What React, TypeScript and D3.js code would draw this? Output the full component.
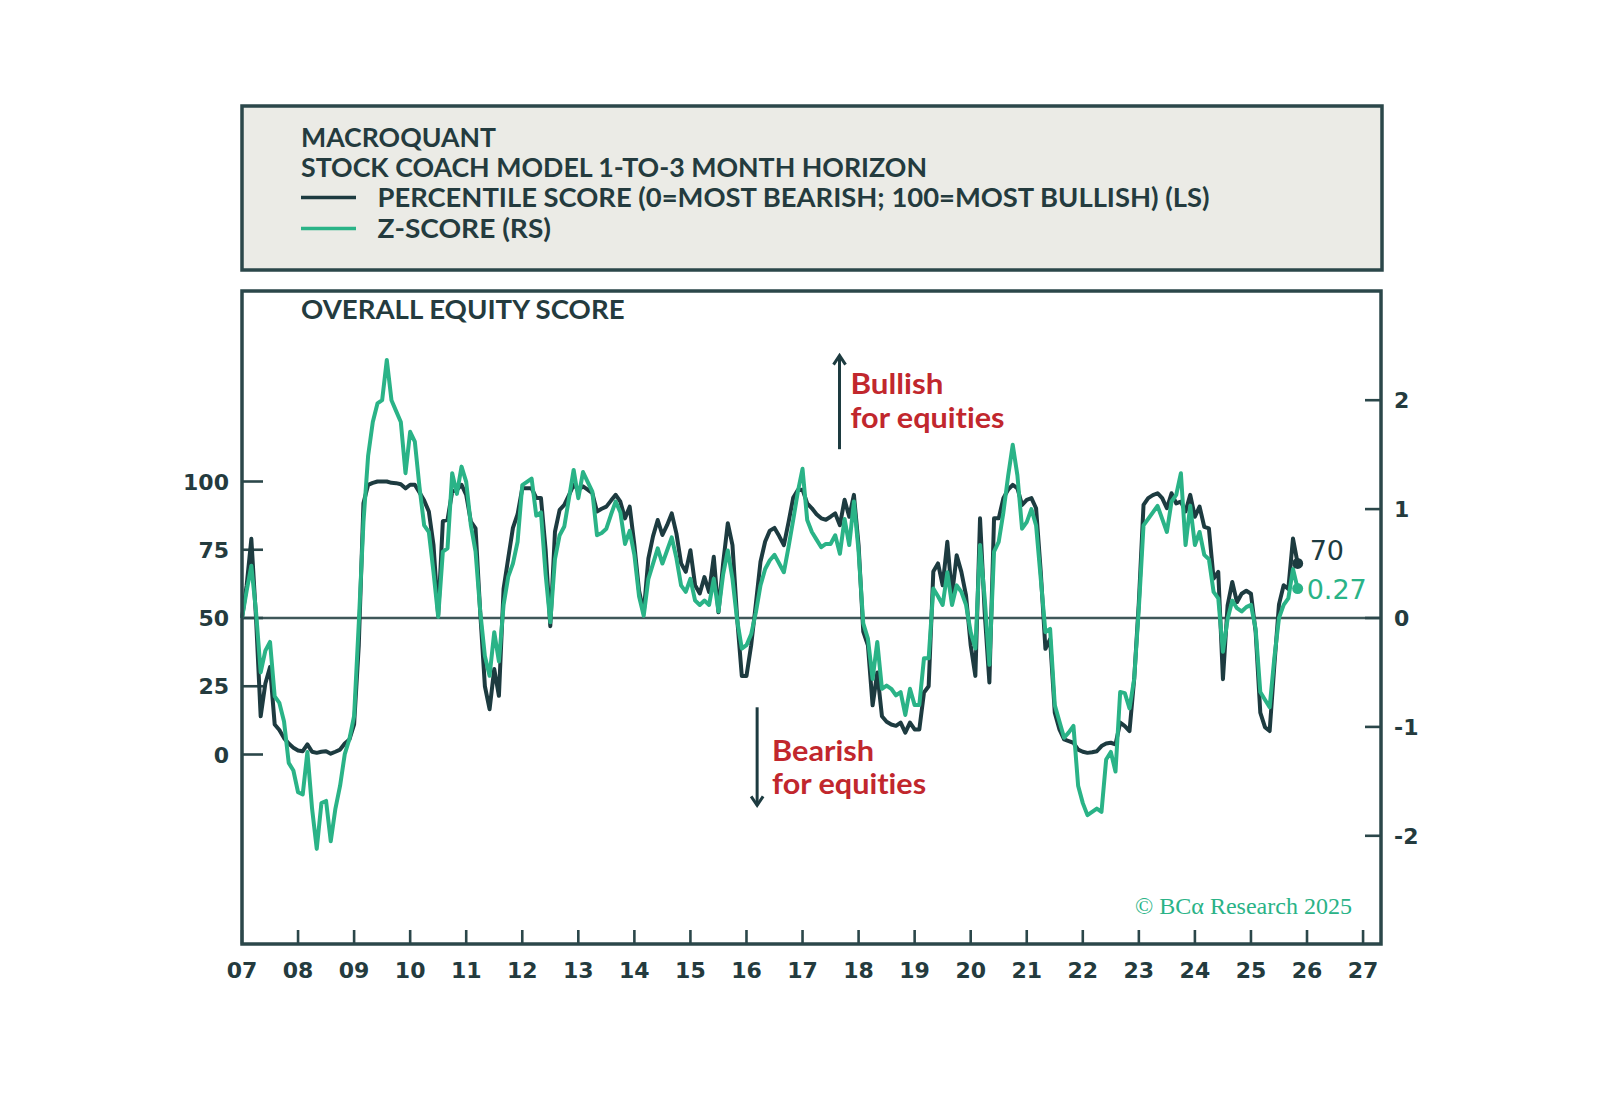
import { useMemo } from "react";
import * as d3 from "d3";

// monthly readings, first point = Jan 2007
const startYear = 2007;

const percentile = [
  50, 62, 79, 50, 14, 26, 32, 11, 9, 6,
  4, 2.5, 1.5, 1.2, 3.7, 1, 0.6, 1, 1.2, 0.3,
  1, 1.8, 4, 5.5, 11, 40, 92, 98.8, 99.5, 100,
  100, 100, 99.5, 99.4, 99, 97.5, 98.8, 98.8, 96, 93,
  89, 76.7, 51, 85.5, 86, 96.3, 96.9, 98.8, 95.1, 85.3,
  82.8, 52, 25, 16.6, 31.3, 21.5, 60.7, 72, 83, 88,
  97.5, 97.5, 97.5, 94, 94, 75, 47, 81.6, 89.6, 91.4,
  95, 98.8, 96.9, 98.2, 97, 95.7, 89, 90, 90.8, 93,
  95.1, 92.6, 86.5, 90.8, 76.7, 60, 52, 71.8, 80, 85.9,
  80.4, 84, 88.3, 81, 70, 66.9, 74.8, 62, 59, 65,
  59.5, 72.4, 52.1, 70, 84.7, 76.7, 50, 28.8, 28.8, 40,
  55, 70.6, 78, 82, 83, 80, 76.7, 85, 94, 96.9,
  97, 92, 90.2, 88, 86.5, 86, 87.1, 88.3, 84, 93.3,
  87.1, 95.1, 76.7, 45, 40, 18, 30, 14, 12, 11,
  10.5, 11.7, 8, 11.7, 9.2, 9.2, 22.7, 25, 67, 70,
  62, 77.9, 58.3, 73, 66.9, 58.3, 40, 28.8, 86.5, 52,
  26.4, 86.5, 86.5, 93.9, 97, 98.8, 97.5, 91.4, 93.3, 93.9,
  90.2, 66.9, 38.7, 42.3, 15.3, 9.2, 5.5, 4.9, 4.3, 1.8,
  1, 0.6, 0.8, 1.2, 3.1, 4, 4.3, 3.7, 11.7, 10.4,
  8.6, 27.6, 55.8, 91.4, 93.9, 95, 95.7, 93.9, 90.2, 95.7,
  92, 92.6, 89, 95.1, 87.1, 90.8, 83.4, 82.8, 64.4, 66.9,
  27.6, 54.6, 63.2, 55.8, 58.9, 60, 58.9, 45, 15.3, 10,
  8.6, 32.5, 55, 62, 60.7, 79.1, 70,
];

const zScore = [
  0.0, 0.25, 0.48, 0.06, -0.5, -0.3, -0.22, -0.72, -0.78, -0.95,
  -1.33, -1.4, -1.6, -1.62, -1.23, -1.75, -2.12, -1.7, -1.68, -2.05,
  -1.75, -1.54, -1.25, -1.11, -0.9, -0.05, 0.88, 1.49, 1.8, 1.97,
  2.0, 2.37, 2.0, 1.9, 1.8, 1.33, 1.71, 1.62, 1.2, 0.85,
  0.79, 0.42, 0.01, 0.61, 0.64, 1.33, 1.14, 1.39, 1.25, 0.85,
  0.61, 0.06, -0.35, -0.53, -0.13, -0.4, 0.12, 0.38, 0.5, 0.7,
  1.22, 1.25, 1.28, 0.94, 0.97, 0.4, -0.04, 0.54, 0.76, 0.84,
  1.1, 1.36, 1.1, 1.34, 1.25, 1.16, 0.76, 0.78, 0.82, 0.95,
  1.07, 0.97, 0.68, 0.8, 0.58, 0.2, 0.02, 0.36, 0.5, 0.64,
  0.5, 0.62, 0.74, 0.55, 0.3, 0.24, 0.36, 0.16, 0.12, 0.16,
  0.12, 0.36, 0.06, 0.4, 0.62, 0.36, -0.02, -0.28, -0.25, -0.15,
  0.05, 0.3, 0.45, 0.53, 0.58, 0.5, 0.42, 0.65, 0.9, 1.16,
  1.37, 0.9, 0.79, 0.72, 0.65, 0.68, 0.68, 0.76, 0.59, 0.91,
  0.67, 1.07, 0.61, -0.05, -0.19, -0.56, -0.22, -0.65, -0.62, -0.65,
  -0.71, -0.68, -0.89, -0.65, -0.8, -0.8, -0.37, -0.37, 0.27, 0.2,
  0.12, 0.42, 0.12, 0.3, 0.24, 0.12, -0.13, -0.28, 0.67, 0.18,
  -0.43, 0.61, 0.7, 0.97, 1.3, 1.59, 1.31, 0.82, 0.88, 1.0,
  0.85, 0.36, -0.13, -0.1, -0.8, -0.95, -1.1, -1.05, -0.99, -1.54,
  -1.7, -1.81, -1.78, -1.75, -1.78, -1.3, -1.23, -1.41, -0.68, -0.69,
  -0.83, -0.56, 0.09, 0.85, 0.91, 0.97, 1.03, 0.91, 0.79, 1.07,
  1.13, 1.33, 0.67, 1.03, 0.67, 0.79, 0.58, 0.54, 0.24, 0.18,
  -0.31, -0.01, 0.16, 0.09, 0.06, 0.1, 0.12, -0.1, -0.68, -0.75,
  -0.82, -0.37, 0.0, 0.12, 0.18, 0.45, 0.27,
];

const yearLabels = ["07", "08", "09", "10", "11", "12", "13", "14", "15", "16", "17", "18", "19", "20", "21", "22", "23", "24", "25", "26", "27"];
const leftTicks = [0, 25, 50, 75, 100];
const rightTicks = [-2, -1, 0, 1, 2];

const titleLines = ["MACROQUANT", "STOCK COACH MODEL 1-TO-3 MONTH HORIZON"];
const legendLabels = ["PERCENTILE SCORE (0=MOST BEARISH; 100=MOST BULLISH) (LS)", "Z-SCORE (RS)"];
const panelTitle = "OVERALL EQUITY SCORE";
const lastPercentileLabel = "70";
const lastZLabel = "0.27";

const DARK = "#1d3b40";
const GREEN = "#2ab387";
const FRAME = "#2b474a";
const INK = "#243b3e";
const RED = "#c1272d";
const TITLE_FONT = "Lato, 'Noto Sans', sans-serif";
const NUM_FONT = "'DejaVu Sans', Verdana, sans-serif";
const NOTE_FONT = "Lato, 'Open Sans', sans-serif";
const noLigatures = { fontVariantLigatures: "none" as const };

export default function App() {
  const layout = useMemo(() => {
    const width = 1600;
    const height = 1114;
    const plot = { left: 242, right: 1381, top: 291, bottom: 944 };
    const x = d3.scaleLinear().domain([2007, 2027.32]).range([plot.left, plot.right]);
    const yLeft = d3.scaleLinear().domain([0, 100]).range([754.5, 481.5]);
    const yRight = d3.scaleLinear().domain([-2, 2]).range([835.8, 400.2]);
    const pts = percentile.map((value, i) => ({ t: startYear + i / 12, p: value, z: zScore[i] }));
    return { width, height, plot, x, yLeft, yRight, pts };
  }, []);

  const { plot, x, yLeft, yRight, pts } = layout;
  const pLine = d3.line<{ t: number; p: number }>().x((d) => x(d.t)).y((d) => yLeft(d.p));
  const zLine = d3.line<{ t: number; z: number }>().x((d) => x(d.t)).y((d) => yRight(d.z));
  const last = pts[pts.length - 1];

  const upX = x(2017.66);
  const downX = x(2016.19);

  return (
    <svg width={layout.width} height={layout.height} viewBox={`0 0 ${layout.width} ${layout.height}`} style={{ position: "absolute", left: 0, top: 0, background: "#fff" }}>
      <rect x={0} y={0} width={layout.width} height={layout.height} fill="#fff" />

      {/* legend box */}
      <rect x={242} y={106} width={1140} height={164} fill="#ebebe6" stroke={FRAME} strokeWidth={3.5} />
      <text x={301} y={147} fontFamily={TITLE_FONT} fontWeight={700} fontSize={26} fill={INK} textLength={195} lengthAdjust="spacingAndGlyphs">{titleLines[0]}</text>
      <text x={301} y={176.5} fontFamily={TITLE_FONT} fontWeight={700} fontSize={26} fill={INK} textLength={626} lengthAdjust="spacingAndGlyphs">{titleLines[1]}</text>
      <line x1={301} x2={356} y1={197.5} y2={197.5} stroke={DARK} strokeWidth={3.5} />
      <text x={377.5} y={207} fontFamily={TITLE_FONT} fontWeight={700} fontSize={26} fill={INK} textLength={832} lengthAdjust="spacingAndGlyphs">{legendLabels[0]}</text>
      <line x1={301} x2={356} y1={228.5} y2={228.5} stroke={GREEN} strokeWidth={3.5} />
      <text x={377.5} y={238} fontFamily={TITLE_FONT} fontWeight={700} fontSize={26} fill={INK} textLength={173.5} lengthAdjust="spacingAndGlyphs">{legendLabels[1]}</text>

      {/* plot panel */}
      <rect x={plot.left} y={plot.top} width={plot.right - plot.left} height={plot.bottom - plot.top} fill="#fff" />
      <text x={301} y={319} fontFamily={TITLE_FONT} fontWeight={700} fontSize={26} fill={INK} textLength={323.5} lengthAdjust="spacingAndGlyphs">{panelTitle}</text>

      <line x1={plot.left} x2={plot.right} y1={yRight(0)} y2={yRight(0)} stroke="#3e5759" strokeWidth={2.6} />

      {leftTicks.map((tick) => (
        <g key={`l${tick}`}>
          <line x1={plot.left} x2={plot.left + 21} y1={yLeft(tick)} y2={yLeft(tick)} stroke={FRAME} strokeWidth={2.6} />
          <text x={229} y={yLeft(tick) + 8} textAnchor="end" fontFamily={NUM_FONT} fontWeight={700} fontSize={22} fill={INK}>{tick}</text>
        </g>
      ))}
      {rightTicks.map((tick) => (
        <g key={`r${tick}`}>
          <line x1={plot.right - 16} x2={plot.right} y1={yRight(tick)} y2={yRight(tick)} stroke={FRAME} strokeWidth={2.6} />
          <text x={1394} y={yRight(tick) + 8} fontFamily={NUM_FONT} fontWeight={700} fontSize={22} fill={INK}>{tick}</text>
        </g>
      ))}
      {yearLabels.map((label, i) => (
        <g key={label}>
          <line x1={x(2007 + i)} x2={x(2007 + i)} y1={plot.bottom} y2={plot.bottom - 14} stroke={FRAME} strokeWidth={2.6} />
          <text x={x(2007 + i)} y={978} textAnchor="middle" fontFamily={NUM_FONT} fontWeight={700} fontSize={22} fill={INK}>{label}</text>
        </g>
      ))}

      <path d={pLine(pts) ?? ""} fill="none" stroke={DARK} strokeWidth={4} strokeLinejoin="round" />
      <path d={zLine(pts) ?? ""} fill="none" stroke={GREEN} strokeWidth={4} strokeLinejoin="round" />

      <circle cx={x(last.t)} cy={yLeft(last.p)} r={5.5} fill={DARK} />
      <circle cx={x(last.t)} cy={yRight(last.z)} r={5.5} fill={GREEN} />
      <text x={x(last.t) + 12} y={yLeft(last.p) - 3} fontFamily={NUM_FONT} fontSize={27} fill={DARK}>{lastPercentileLabel}</text>
      <text x={x(last.t) + 9} y={yRight(last.z) + 10} fontFamily={NUM_FONT} fontSize={27} fill={GREEN}>{lastZLabel}</text>

      {/* annotations */}
      <line x1={upX} x2={upX} y1={yRight(1.55)} y2={yRight(2.41)} stroke={DARK} strokeWidth={3} />
      <polyline points={`${upX - 6},${yRight(2.41) + 9} ${upX},${yRight(2.41)} ${upX + 6},${yRight(2.41) + 9}`} fill="none" stroke={DARK} strokeWidth={3} />
      <text x={upX + 11} y={yRight(2.06)} fontFamily={NOTE_FONT} fontWeight={700} fontSize={28} fill={RED} style={noLigatures} textLength={93} lengthAdjust="spacingAndGlyphs">Bullish</text>
      <text x={upX + 11} y={yRight(1.745)} fontFamily={NOTE_FONT} fontWeight={700} fontSize={28} fill={RED} style={noLigatures} textLength={154} lengthAdjust="spacingAndGlyphs">for equities</text>

      <line x1={downX} x2={downX} y1={yRight(-0.82)} y2={yRight(-1.72)} stroke={DARK} strokeWidth={3} />
      <polyline points={`${downX - 6},${yRight(-1.72) - 9} ${downX},${yRight(-1.72)} ${downX + 6},${yRight(-1.72) - 9}`} fill="none" stroke={DARK} strokeWidth={3} />
      <text x={downX + 15} y={yRight(-1.31)} fontFamily={NOTE_FONT} fontWeight={700} fontSize={28} fill={RED} style={noLigatures} textLength={102} lengthAdjust="spacingAndGlyphs">Bearish</text>
      <text x={downX + 15} y={yRight(-1.62)} fontFamily={NOTE_FONT} fontWeight={700} fontSize={28} fill={RED} style={noLigatures} textLength={154} lengthAdjust="spacingAndGlyphs">for equities</text>

      <text x={1135} y={914} fontFamily="'Liberation Serif', 'DejaVu Serif', serif" fontSize={23} fill={GREEN} textLength={217} lengthAdjust="spacingAndGlyphs">© BCα Research 2025</text>

      <rect x={plot.left} y={plot.top} width={plot.right - plot.left} height={plot.bottom - plot.top} fill="none" stroke={FRAME} strokeWidth={3.5} />
    </svg>
  );
}
